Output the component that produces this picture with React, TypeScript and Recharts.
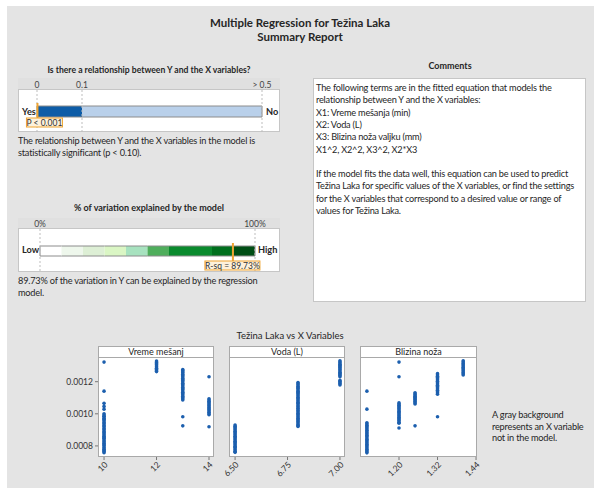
import React from "react";
import { Bar, BarChart, ReferenceLine, Scatter, ScatterChart, XAxis, YAxis } from "recharts";

// Minitab "Summary Report" za višestruku regresiju (Težina Laka)

const FONT = "Lato, 'Open Sans', sans-serif";
const INK = "#262626";
const BLUE = "#1c5fae";
const ORANGE = "#f0a431";

// --- p-vrijednost
const pTicks = [0, 0.1, 0.5];
const pBands = [0.1, 0.4];
const pBandColors = ["#0d5ca7", "#b9d0ea"];
const pValue = 0.001;

// --- R-sq
const rsqTicks = [0, 100];
const rsqBands = [10, 10, 10, 10, 10, 10, 20, 10, 10];
const rsqBandColors = ["#ffffff", "#eef7ec", "#ddefd5", "#daf6c4", "#a7e2bf", "#4fae5c", "#0a8a2d", "#006f1d", "#004e15"];
const rsqValue = 89.73;

// --- scatter
const yTicks = [0.0008, 0.001, 0.0012];
const yDomain = [0.000731, 0.00136];

const vremeTicks = [10, 12, 14];
const vremeLevels = [10, 12, 13, 14];
const vreme10 = [0.001322, 0.001141, 0.001065, 0.001046, 0.001029, 0.001, 0.000993, 0.000985, 0.000981, 0.000972, 0.000966, 0.000958, 0.000949, 0.000943, 0.000936, 0.000927, 0.000921, 0.000912, 0.000905, 0.000899, 0.00089, 0.000884, 0.000876, 0.000868, 0.000861, 0.000853, 0.000847, 0.000839, 0.000831, 0.000824, 0.000816, 0.000809, 0.000802, 0.000794, 0.000787, 0.000779, 0.000772, 0.000765, 0.000758];
const vreme12 = [0.001329, 0.001323, 0.001318, 0.001312, 0.001305, 0.001297, 0.001291, 0.001284, 0.001276, 0.001268, 0.001263];
const vreme13 = [0.001276, 0.00127, 0.001262, 0.001255, 0.001247, 0.001238, 0.001231, 0.001222, 0.001214, 0.001207, 0.001199, 0.00119, 0.001183, 0.001175, 0.001166, 0.001158, 0.001151, 0.001142, 0.001134, 0.001127, 0.001118, 0.00111, 0.001101, 0.001094, 0.001086, 0.000982, 0.000925];
const vreme14 = [0.001231, 0.001093, 0.001086, 0.001078, 0.001071, 0.001063, 0.001055, 0.001048, 0.00104, 0.001032, 0.001025, 0.001017, 0.001009, 0.001001, 0.000994, 0.000919];

const vodaTicks = [6.5, 6.75, 7.0];
const vodaLevels = [6.5, 6.8, 7.0];
const voda650 = [0.00093, 0.000922, 0.000915, 0.000907, 0.000899, 0.000891, 0.000884, 0.000876, 0.000868, 0.00086, 0.000853, 0.000845, 0.000837, 0.000829, 0.000822, 0.000814, 0.000806, 0.000798, 0.000791, 0.000783, 0.000775, 0.000767, 0.00076];
const voda680 = [0.001195, 0.001187, 0.00118, 0.001172, 0.001164, 0.001157, 0.001149, 0.001141, 0.001134, 0.001126, 0.001118, 0.001111, 0.001103, 0.001095, 0.001088, 0.00108, 0.001072, 0.001065, 0.001057, 0.001049, 0.001042, 0.001034, 0.001026, 0.001019, 0.001011, 0.001003, 0.000996, 0.000988, 0.00098, 0.000973, 0.000965, 0.000957, 0.00095, 0.000942, 0.000934, 0.000927, 0.000921];
const voda700 = [0.00133, 0.001323, 0.001316, 0.001309, 0.001302, 0.001295, 0.001288, 0.001281, 0.001274, 0.001266, 0.001259, 0.001252, 0.001245, 0.001238, 0.001231, 0.001208, 0.001201, 0.001194, 0.001187, 0.00118];

const blizinaTicks = [1.2, 1.32, 1.44];
const blizinaLevels = [1.1, 1.2, 1.25, 1.32, 1.4];
const blizina110 = [0.001141, 0.001029, 0.000944, 0.000937, 0.000929, 0.000921, 0.000913, 0.000905, 0.000897, 0.000889, 0.000881, 0.000874, 0.000866, 0.000858, 0.00085, 0.000842, 0.000834, 0.000826, 0.000818, 0.000811, 0.000803, 0.000795, 0.000787, 0.000779, 0.000771, 0.000763, 0.000757];
const blizina120 = [0.001322, 0.001231, 0.001068, 0.001061, 0.001053, 0.001046, 0.001038, 0.001031, 0.001023, 0.001016, 0.001008, 0.001001, 0.000993, 0.000986, 0.000978, 0.000971, 0.000963, 0.000956, 0.000948, 0.000941, 0.000912];
const blizina125 = [0.001131, 0.001124, 0.001117, 0.00111, 0.001103, 0.001096, 0.001089, 0.001082, 0.001075, 0.001068, 0.001061, 0.000925];
const blizina132 = [0.00125, 0.001242, 0.001234, 0.001226, 0.001218, 0.00121, 0.001202, 0.001194, 0.001186, 0.001178, 0.00117, 0.001162, 0.001154, 0.001146, 0.001138, 0.00113, 0.001122, 0.000982];
const blizina140 = [0.00133, 0.001322, 0.001314, 0.001306, 0.001298, 0.00129, 0.001282, 0.001274, 0.001266, 0.001258, 0.00125, 0.001242];

// --- tekst
const titleLines = ["Multiple Regression for Težina Laka", "Summary Report"];
const pQuestion = "Is there a relationship between Y and the X variables?";
const pNote = ["The relationship between Y and the X variables in the model is", "statistically significant (p < 0.10)."];
const rsqQuestion = "% of variation explained by the model";
const rsqNote = ["89.73% of the variation in Y can be explained by the regression", "model."];
const commentLines = [
  "The following terms are in the fitted equation that models the",
  "relationship between Y and the X variables:",
  "X1: Vreme mešanja (min)",
  "X2: Voda (L)",
  "X3: Blizina noža valjku (mm)",
  "X1^2, X2^2, X3^2, X2*X3",
  "",
  "If the model fits the data well, this equation can be used to predict",
  "Težina Laka for specific values of the X variables, or find the settings",
  "for the X variables that correspond to a desired value or range of",
  "values for Težina Laka.",
];
const grayNote = ["A gray background", "represents an X variable", "not in the model."];

const toPoints = (levels: number[], groups: number[][]) =>
  groups.flatMap((g, i) => g.map((y) => ({ x: levels[i], y })));

const vremePts = toPoints(vremeLevels, [vreme10, vreme12, vreme13, vreme14]);
const vodaPts = toPoints(vodaLevels, [voda650, voda680, voda700]);
const blizinaPts = toPoints(blizinaLevels, [blizina110, blizina120, blizina125, blizina132, blizina140]);

const pRow: Record<string, any> = { row: "p" };
pBands.forEach((v, i) => (pRow["b" + i] = v));
const rsqRow: Record<string, any> = { row: "r" };
rsqBands.forEach((v, i) => (rsqRow["b" + i] = v));

function Txt({ x, cy, children, bold, size = 9.2, ls = -0.2, align = "left", w, lh = 12 }: any) {
  const left = align === "center" ? x - w / 2 : x;
  return (
    <div
      style={{
        position: "absolute",
        left,
        top: cy - lh / 2,
        width: w,
        height: lh,
        lineHeight: lh + "px",
        fontSize: size,
        letterSpacing: ls,
        fontWeight: bold ? 700 : 400,
        color: INK,
        textAlign: align,
        whiteSpace: "nowrap",
      }}
    >
      {children}
    </div>
  );
}

// segment s gornjim/donjim rubom (kao u Minitabu)
const bandShape = (first: boolean, last: boolean) => (p: any) => {
  const { x, y, width, height, fill } = p;
  return (
    <g>
      <rect x={x} y={y} width={width} height={height} fill={fill} />
      <line x1={x} x2={x + width} y1={y} y2={y} stroke="#8c8c8c" strokeWidth={1} />
      <line x1={x} x2={x + width} y1={y + height} y2={y + height} stroke="#8c8c8c" strokeWidth={1} />
      {first && <line x1={x} x2={x} y1={y} y2={y + height} stroke="#8c8c8c" />}
      {last && <line x1={x + width} x2={x + width} y1={y} y2={y + height} stroke="#8c8c8c" />}
    </g>
  );
};

const markerShape = (label: string, top: number, bottom: number, boxLeft: number, boxW: number) => (p: any) => {
  const { x1, y1, y2 } = p;
  return (
    <g>
      <line x1={x1} x2={x1} y1={y1 + top} y2={y2 - bottom} stroke={ORANGE} strokeWidth={2} />
      <rect x={x1 + boxLeft} y={y2 - bottom} width={boxW} height={9} fill="#fdf1dc" stroke={ORANGE} strokeWidth={1} />
      <text x={x1 + boxLeft + boxW / 2} y={y2 - bottom + 7.5} textAnchor="middle" fontSize={8.5} fill="#333" fontFamily={FONT}>
        {label}
      </text>
    </g>
  );
};

function Gauge({ left, top, row, colors, ticks, domain, fmt, margin, barSize, headerH, marker, value, lo, hi, labelY, hiX }: any) {
  return (
    <div style={{ position: "absolute", left, top, width: 262, height: 54 }}>
      <div style={{ position: "absolute", inset: 0, background: "#fff", border: "1px solid #c6c6c6", boxSizing: "border-box" }} />
      <div style={{ position: "absolute", left: 0, top: 0, width: 262, height: headerH, background: "#e0e0e0", borderBottom: "1px solid #c6c6c6", boxSizing: "border-box" }} />
      <div style={{ position: "absolute", left: 0, top: 0 }}>
        <BarChart layout="vertical" width={262} height={54} data={[row]} margin={margin} barSize={barSize}>
          <XAxis
            type="number"
            orientation="top"
            domain={domain}
            ticks={ticks}
            interval={0}
            height={headerH}
            axisLine={false}
            tickLine={false}
            tickSize={0}
            tickMargin={2}
            tickFormatter={fmt}
            tick={{ fontSize: 8.5, fill: "#444", fontFamily: FONT }}
          />
          <YAxis type="category" dataKey="row" hide />
          {ticks.map((t: number) => (
            <ReferenceLine key={t} x={t} stroke="#bdbdbd" strokeDasharray="2 2" />
          ))}
          {colors.map((c: string, i: number) => (
            <Bar
              key={i}
              dataKey={"b" + i}
              stackId="s"
              fill={c}
              isAnimationActive={false}
              shape={bandShape(i === 0, i === colors.length - 1)}
            />
          ))}
          <ReferenceLine x={value} shape={marker} />
        </BarChart>
      </div>
      <Txt x={4} cy={labelY} bold ls={0}>{lo}</Txt>
      <Txt x={hiX} cy={labelY} bold ls={0}>{hi}</Txt>
    </div>
  );
}

function RotTick({ x, y, payload, fmt }: any) {
  return (
    <text
      x={x}
      y={y}
      transform={`rotate(-45 ${x} ${y})`}
      textAnchor="end"
      dy={6}
      fontSize={8.5}
      fill="#333"
      fontFamily={FONT}
    >
      {fmt(payload.value)}
    </text>
  );
}

const dot = (p: any) => <circle cx={p.cx} cy={p.cy} r={1.8} fill={BLUE} />;

function Panel({ left, width, title, data, xDomain, xTicks, fmt, showY }: any) {
  const yw = showY ? 58 : 0;
  return (
    <>
      <div
        style={{
          position: "absolute",
          left,
          top: 346,
          width,
          height: 111,
          background: "#fff",
          border: "1px solid #a9a9a9",
          boxSizing: "border-box",
        }}
      >
        <div
          style={{
            height: 10,
            borderBottom: "1px solid #a9a9a9",
            fontSize: 9,
            lineHeight: "10px",
            textAlign: "center",
            color: INK,
          }}
        >
          {title}
        </div>
      </div>
      <div style={{ position: "absolute", left: left - yw, top: 356 }}>
        <ScatterChart width={width + yw} height={131} margin={{ top: 0, right: 0, bottom: 0, left: 0 }}>
          <XAxis
            type="number"
            dataKey="x"
            domain={xDomain}
            ticks={xTicks}
            interval={0}
            allowDataOverflow
            height={30}
            axisLine={false}
            tickSize={3}
            tickMargin={1}
            stroke="#777"
            tick={<RotTick fmt={fmt} />}
          />
          <YAxis
            type="number"
            dataKey="y"
            domain={yDomain}
            ticks={yTicks}
            interval={0}
            allowDataOverflow
            hide={!showY}
            width={yw}
            axisLine={false}
            tickSize={3}
            tickMargin={2}
            stroke="#777"
            tick={{ fontSize: 8.5, fill: "#333", fontFamily: FONT }}
            tickFormatter={(v: number) => v.toFixed(4)}
          />
          <Scatter data={data} isAnimationActive={false} shape={dot} />
        </ScatterChart>
      </div>
    </>
  );
}

export default function App() {
  return (
    <div style={{ position: "absolute", left: 0, top: 0, width: 594, height: 488, background: "#fff", fontFamily: FONT, overflow: "hidden" }}>
      <style>{"svg.recharts-surface { overflow: visible; }"}</style>
      <div style={{ position: "absolute", left: 7, top: 6, right: 0, bottom: 0, background: "#e4e4e4" }} />

      {titleLines.map((t, i) => (
        <Txt key={i} x={300} w={400} cy={22 + i * 14} align="center" bold size={11.5} ls={0} lh={13}>{t}</Txt>
      ))}

      <Txt x={149} w={280} cy={70} align="center" bold size={8.6} ls={0}>{pQuestion}</Txt>
      <Gauge
        left={18}
        top={78}
        row={pRow}
        colors={pBandColors}
        ticks={pTicks}
        domain={[0, 0.5]}
        fmt={(v: number) => (v === 0.5 ? "> 0.5" : String(v))}
        margin={{ top: 0, left: 19, right: 18, bottom: 0 }}
        barSize={11}
        headerH={12}
        value={pValue}
        marker={markerShape("P < 0.001", 13, 14, -11, 36)}
        lo="Yes"
        hi="No"
        labelY={34}
        hiX={248}
      />
      {pNote.map((t, i) => (
        <Txt key={i} x={18} cy={141 + i * 12}>{t}</Txt>
      ))}

      <Txt x={149} w={280} cy={208} align="center" bold size={9} ls={0}>{rsqQuestion}</Txt>
      <Gauge
        left={18}
        top={218}
        row={rsqRow}
        colors={rsqBandColors}
        ticks={rsqTicks}
        domain={[0, 100]}
        fmt={(v: number) => v + "%"}
        margin={{ top: 0, left: 22, right: 25, bottom: 0 }}
        barSize={10}
        headerH={11}
        value={rsqValue}
        marker={markerShape("R-sq = 89.73%", 14, 11, -28, 55)}
        lo="Low"
        hi="High"
        labelY={32}
        hiX={240}
      />
      {rsqNote.map((t, i) => (
        <Txt key={i} x={18} cy={281 + i * 12}>{t}</Txt>
      ))}

      <Txt x={450} w={200} cy={66} align="center" bold size={9} ls={0}>Comments</Txt>
      <div style={{ position: "absolute", left: 313, top: 78, width: 273, height: 224, background: "#fff", border: "1px solid #c6c6c6", boxSizing: "border-box" }} />
      {commentLines.map((t, i) => (
        <Txt key={i} x={316} cy={88 + i * 12.3}>{t}</Txt>
      ))}

      <Txt x={290} w={200} cy={336} align="center" size={9.5} ls={0}>Težina Laka vs X Variables</Txt>
      <Panel left={98} width={116} title="Vreme mešanj" data={vremePts} xDomain={[9.77, 14.19]} xTicks={vremeTicks} fmt={(v: number) => String(v)} showY />
      <Panel left={229} width={116} title="Voda (L)" data={vodaPts} xDomain={[6.471, 7.024]} xTicks={vodaTicks} fmt={(v: number) => v.toFixed(2)} />
      <Panel left={360} width={117} title="Blizina noža" data={blizinaPts} xDomain={[1.0785, 1.443]} xTicks={blizinaTicks} fmt={(v: number) => v.toFixed(2)} />
      {grayNote.map((t, i) => (
        <Txt key={i} x={492} cy={415 + i * 11.5}>{t}</Txt>
      ))}
    </div>
  );
}
